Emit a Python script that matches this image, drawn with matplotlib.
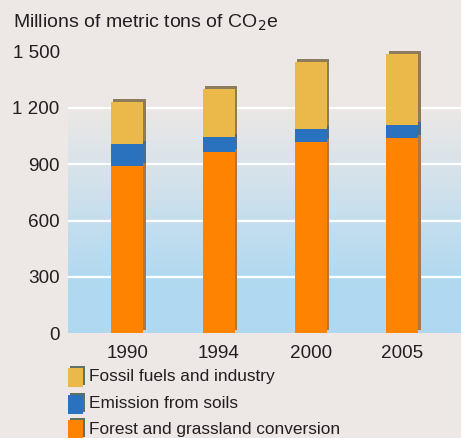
import numpy as np
import matplotlib
matplotlib.use("Agg")
import matplotlib.pyplot as plt
from matplotlib.patches import Rectangle
from matplotlib.colors import LinearSegmentedColormap
from matplotlib.transforms import ScaledTranslation

plt.rcParams['font.family'] = ['Liberation Sans', 'DejaVu Sans']

# Emissions by source, millions of metric tons of CO2e
years = ["1990", "1994", "2000", "2005"]
forest = [893, 965, 1019, 1040]
soils = [115, 80, 69, 69]
fossil = [224, 256, 357, 379]

series = ["Fossil fuels and industry", "Emission from soils", "Forest and grassland conversion"]
yticks = [0, 300, 600, 900, 1200, 1500]
ytick_labels = ["0", "300", "600", "900", "1 200", "1 500"]

BG = "#ede8e6"
TXT = "#231f20"
C_FOREST, C_SOILS, C_FOSSIL = "#fd8300", "#2a72bd", "#ebb94a"
SH_FOREST, SH_SOILS, SH_FOSSIL = "#b07545", "#4c6a8a", "#8c7c5c"

W, H = 461, 438
fig = plt.figure(figsize=(W / 100, H / 100), dpi=100, facecolor=BG)

# axes: left edge at x=68 px, zero line at y=333 px, 1500 at ~52 px
ax_l, ax_r = 68 / W, 1.0
ax_b = (H - 333) / H
ax_t = (H - 51.75) / H
ax = fig.add_axes([ax_l, ax_b, ax_r - ax_l, ax_t - ax_b])
ax.set_facecolor(BG)
ax.set_ylim(0, 1500)
x = np.arange(len(years))
XMIN, XMAX = -0.645, 3.64
ax.set_xlim(XMIN, XMAX)

# vertical gradient: sky blue near the base fading into the page colour
cmap = LinearSegmentedColormap.from_list("bg", ["#b0d9f1", BG], N=256)
levels = np.linspace(0, 1500, 400)
grad = np.clip((levels - 260) / (1220 - 260), 0, 1)
ax.imshow(grad[:, None], aspect="auto", cmap=cmap, vmin=0, vmax=1,
          extent=[XMIN, XMAX, 0, 1500], origin="lower", zorder=0)

for yv in [300, 600, 900, 1200]:
    ax.axhline(yv, color="white", lw=1.6, zorder=1)

bw = 0.35
shadow = ax.transData + ScaledTranslation(2.3 / 100, 3 / 100, fig.dpi_scale_trans)
bottoms = np.zeros(len(years))
for vals_, sh in [(forest, SH_FOREST), (soils, SH_SOILS), (fossil, SH_FOSSIL)]:
    ax.bar(x, vals_, bw, bottom=bottoms, color=sh, transform=shadow,
           zorder=2, linewidth=0, clip_on=False)
    bottoms = bottoms + np.array(vals_)
bottoms = np.zeros(len(years))
for vals_, col in [(forest, C_FOREST), (soils, C_SOILS), (fossil, C_FOSSIL)]:
    ax.bar(x, vals_, bw, bottom=bottoms, color=col, zorder=3, linewidth=0,
           clip_on=False)
    bottoms = bottoms + np.array(vals_)

for s in ax.spines.values():
    s.set_visible(False)
ax.set_yticks(yticks)
ax.set_yticklabels(ytick_labels)
ax.set_xticks(x)
ax.set_xticklabels(years)
ax.tick_params(length=0, labelsize=13.6, colors=TXT)
ax.tick_params(axis="y", pad=6)
ax.tick_params(axis="x", pad=9)

fig.text(13 / W, (H - 22.5) / H, "Millions of metric tons of CO$_2$e",
         fontsize=14, color=TXT, va="center", ha="left")

# legend swatches with offset shadows
rows = [(377, C_FOSSIL), (404, C_SOILS), (429.5, C_FOREST)]
for (yc, col), label in zip(rows, series):
    sx, sy, sw, shh = 68, yc - 9.5, 15, 19
    fig.patches.append(Rectangle(((sx + 2) / W, (H - sy - shh + 2) / H), sw / W, shh / H,
                                 transform=fig.transFigure, color="#5e7262",
                                 lw=0, zorder=1))
    fig.patches.append(Rectangle((sx / W, (H - sy - shh) / H), sw / W, shh / H,
                                 transform=fig.transFigure, color=col, lw=0,
                                 zorder=2))
    fig.text(89 / W, (H - yc) / H, label, fontsize=12.4, color=TXT,
             va="center", ha="left")

fig.savefig("out.png", dpi=100, facecolor=BG)
